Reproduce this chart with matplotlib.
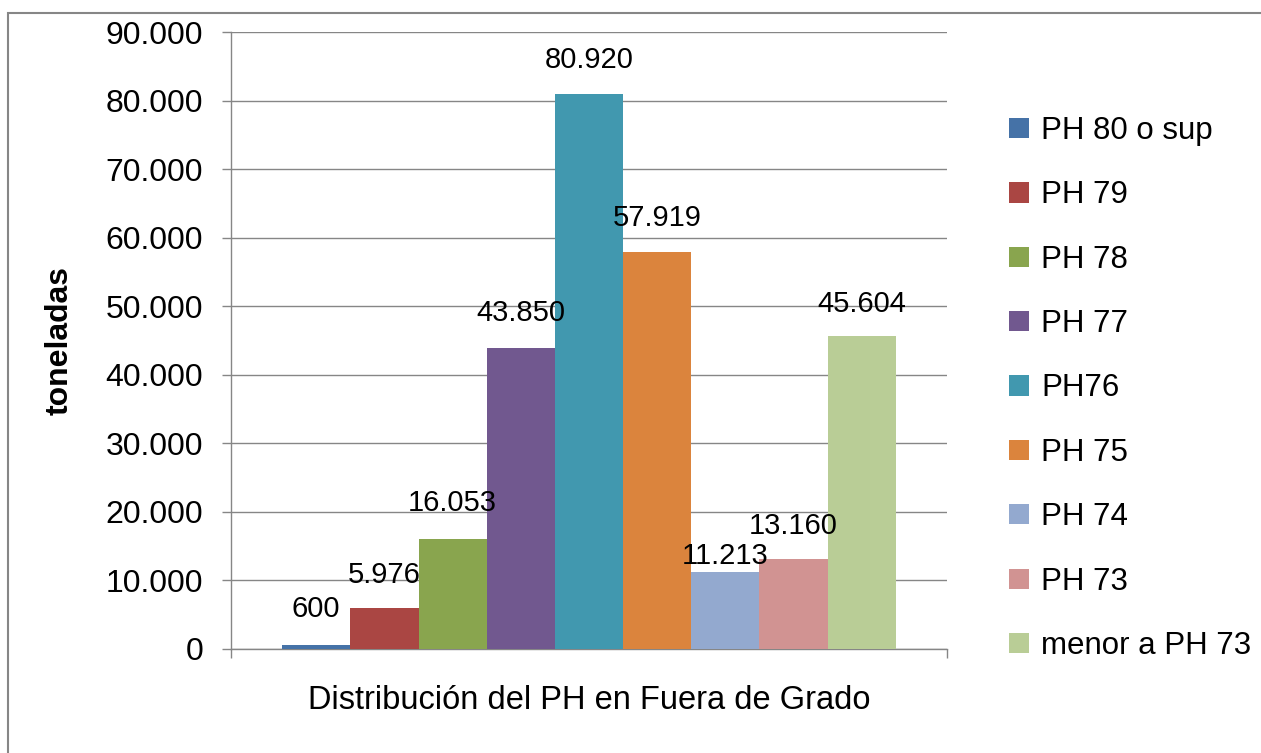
import matplotlib
matplotlib.use("Agg")
import matplotlib.pyplot as plt
from matplotlib.patches import Rectangle

plt.rcParams['font.family'] = ['Liberation Sans', 'DejaVu Sans']

# Data
series = ["PH 80 o sup", "PH 79", "PH 78", "PH 77", "PH76", "PH 75",
          "PH 74", "PH 73", "menor a PH 73"]
toneladas = [600, 5976, 16053, 43850, 80920, 57919, 11213, 13160, 45604]
colors = ["#4572A7", "#AA4643", "#89A54E", "#71588F", "#4198AF",
          "#DB843D", "#93A9CF", "#D19392", "#B9CD96"]
y_ticks = [0, 10000, 20000, 30000, 40000, 50000, 60000, 70000, 80000, 90000]
x_title = "Distribución del PH en Fuera de Grado"
y_title = "toneladas"

# distance (points) between each bar top and its value label
label_pad = [16, 14, 15.5, 15.5, 14.5, 14.5, 1.5, 13.5, 13.5]


def fmt_miles(v):
    return f"{int(v):,}".replace(",", ".")


W, H = 1261, 753
fig = plt.figure(figsize=(W / 100, H / 100), dpi=100)
ax = fig.add_axes([231 / W, 1 - 649 / H, (947 - 231) / W, (649 - 32) / H])

# one category cluster with a 150% gap width
n = len(series)
bar_w = 1 / (n + 1.5)
start = 0.75 * bar_w
grey = "#868686"

handles = []
for i, (name, val, col) in enumerate(zip(series, toneladas, colors)):
    bars = ax.bar(start + bar_w * (i + 0.5), val, width=bar_w, color=col,
                  edgecolor="none", label=name, zorder=3)
    ax.bar_label(bars, labels=[fmt_miles(val)], padding=label_pad[i],
                 fontsize=21, color="black", zorder=4)
    handles.append(bars)

ax.set_xlim(0, 1)
ax.set_ylim(0, 90000)
ax.set_yticks(y_ticks)
ax.set_yticklabels([fmt_miles(t) for t in y_ticks], fontsize=23)
ax.set_xticks([0, 1])
ax.set_xticklabels([])

ax.yaxis.grid(True, color=grey, linewidth=1.0, zorder=0)
ax.set_axisbelow(True)
for s in ("top", "right"):
    ax.spines[s].set_visible(False)
for s in ("left", "bottom"):
    ax.spines[s].set_color(grey)
    ax.spines[s].set_linewidth(1.0)
ax.tick_params(axis="y", length=6.5, width=1.0, color=grey, pad=13.5)
ax.tick_params(axis="x", length=6.5, width=1.0, color=grey, direction="out")

ax.set_ylabel(y_title, fontsize=23, fontweight="bold")
ax.yaxis.set_label_coords((60 - 231) / 716, 0.5)
ax.yaxis.label.set_va("center")
ax.set_xlabel(x_title, fontsize=23.5)
ax.xaxis.set_label_coords(0.5, -0.083)
ax.xaxis.label.set_va("center")

leg = ax.legend(handles=handles, loc="upper left",
                bbox_to_anchor=((1015 - 231) / 716 - 0.008, (649 - 116) / 617),
                frameon=False, fontsize=22.5, handlelength=0.62,
                handleheight=0.62, handletextpad=0.4, labelspacing=1.1,
                borderaxespad=0, borderpad=0)

# outer chart frame (left and top edges visible)
fig.add_artist(Rectangle((8 / W, -0.1), 1.2, 1 - 13 / H + 0.1,
                         transform=fig.transFigure, fill=False,
                         edgecolor=grey, linewidth=1.5))

fig.savefig("out.png", dpi=100, facecolor="white")
